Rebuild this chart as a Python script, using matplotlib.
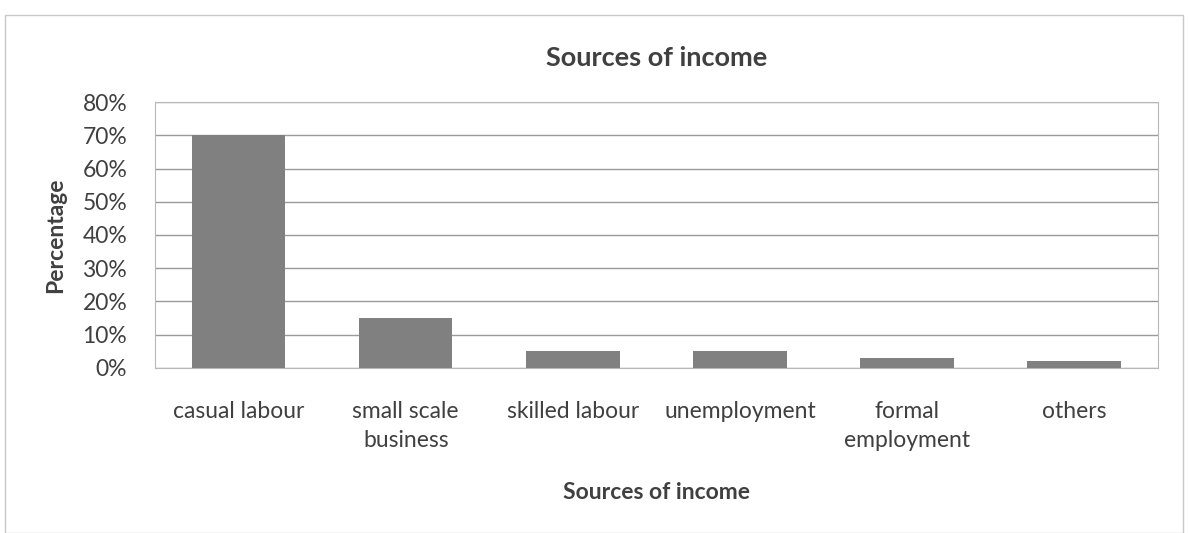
import matplotlib
matplotlib.use('Agg')
import matplotlib.pyplot as plt
from matplotlib.patches import Rectangle
from matplotlib.ticker import PercentFormatter

categorias = ['casual labour', 'small scale\nbusiness', 'skilled labour', 'unemployment',
              'formal\nemployment', 'others']
percentuais = [70, 15, 5, 5, 3, 2]
yticks = [0, 10, 20, 30, 40, 50, 60, 70, 80]

plt.rcParams['font.family'] = ['Lato', 'DejaVu Sans']

fig = plt.figure(figsize=(11.88, 5.33), dpi=100)
ax = fig.add_axes([0.1305, 0.3096, 0.844, 0.499])

# moldura externa do grafico
fig.patches.append(Rectangle((0.004, 0.0), 0.992, 0.972, transform=fig.transFigure,
                             fill=False, edgecolor='#c8c8c8', linewidth=1))

ax.bar(range(len(categorias)), percentuais, width=0.56, color='#808080', zorder=3)

ax.set_ylim(0, 80)
ax.set_xlim(-0.5, len(categorias) - 0.5)
ax.set_yticks(yticks)
ax.yaxis.set_major_formatter(PercentFormatter(decimals=0))
ax.set_xticks(range(len(categorias)))
ax.set_xticklabels(categorias, fontsize=16.5, color='#404040', linespacing=1.45, va='top')
ax.tick_params(axis='y', labelsize=16.5, labelcolor='#404040', length=0, pad=20)
ax.tick_params(axis='x', length=0, pad=24)

ax.grid(axis='y', color='#9a9a9a', linewidth=1, zorder=0)
for s in ax.spines.values():
    s.set_color('#b8b8b8')

ax.set_title('Sources of income', fontsize=19.5, fontweight='bold', color='#404040', pad=26)
ax.set_ylabel('Percentage', fontsize=16.5, fontweight='bold', color='#404040', labelpad=12)
ax.set_xlabel('Sources of income', fontsize=16.5, fontweight='bold', color='#404040', labelpad=22)

fig.savefig('out.png', dpi=100)
